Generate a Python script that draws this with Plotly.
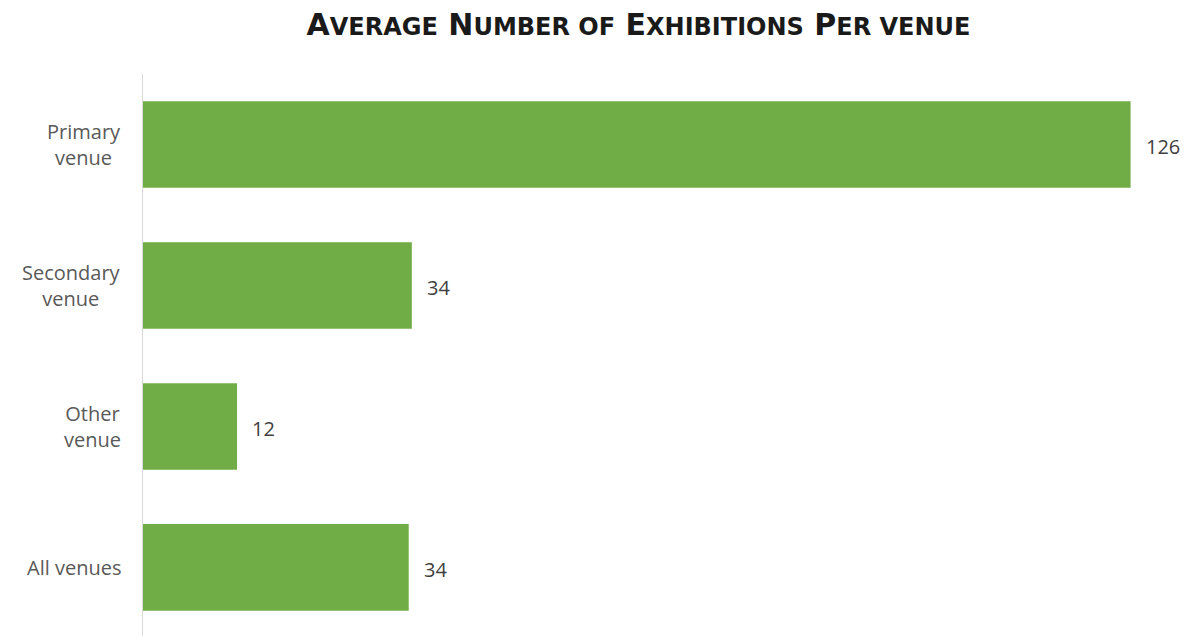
import plotly.graph_objects as go

# Average exhibitions per venue type
categories = ["Primary<br>venue", "Secondary<br>venue", "Other<br>venue", "All venues"]
values = [126, 34.3, 12, 33.9]
value_labels = ["126", "34", "12", "34"]

bar_color = "#70AD47"
font_family = "Open Sans, Lato, sans-serif"
title_family = "DejaVu Sans, Open Sans, sans-serif"
positions = list(range(len(categories)))

fig = go.Figure()
fig.add_trace(go.Bar(
    x=values,
    y=positions,
    orientation="h",
    marker=dict(color=bar_color, line=dict(width=0)),
    width=0.615,
    hoverinfo="skip",
))

# value labels just past the end of each bar
for pos, val, lab in zip(positions, values, value_labels):
    fig.add_annotation(
        x=val, y=pos, xref="x", yref="y",
        text=lab, showarrow=False,
        xanchor="left", yanchor="middle", xshift=13, yshift=-2,
        font=dict(family=font_family, size=20, color="#404040"),
    )

# category labels, centred line by line
for pos, cat in zip(positions, categories):
    fig.add_annotation(
        x=0, y=pos, xref="paper", yref="y",
        text=cat, showarrow=False, align="center",
        xanchor="right", yanchor="middle", xshift=-20,
        font=dict(family=font_family, size=20, color="#595959"),
    )

# small-caps style title
sc = "font-size:24px"
title_text = (
    f"<b>A<span style='{sc}'>VERAGE</span> N<span style='{sc}'>UMBER OF</span> "
    f"E<span style='{sc}'>XHIBITIONS</span> P<span style='{sc}'>ER VENUE</span></b>"
)

fig.update_layout(
    width=1189, height=636,
    margin=dict(l=143, r=20, t=74, b=0),
    paper_bgcolor="white", plot_bgcolor="white",
    showlegend=False,
    title=dict(
        text=title_text, x=0.537, xref="container",
        xanchor="center", y=0.962, yanchor="middle",
        font=dict(family=title_family, size=30, color="#1a1a1a"),
    ),
    xaxis=dict(range=[0, 130.9], showgrid=False, zeroline=False,
               showticklabels=False, showline=False),
    yaxis=dict(range=[3.486, -0.5], showgrid=False, zeroline=False,
               showticklabels=False, showline=True, linecolor="#d9d9d9",
               linewidth=1, tickvals=positions),
)

fig.write_html("out.html")
